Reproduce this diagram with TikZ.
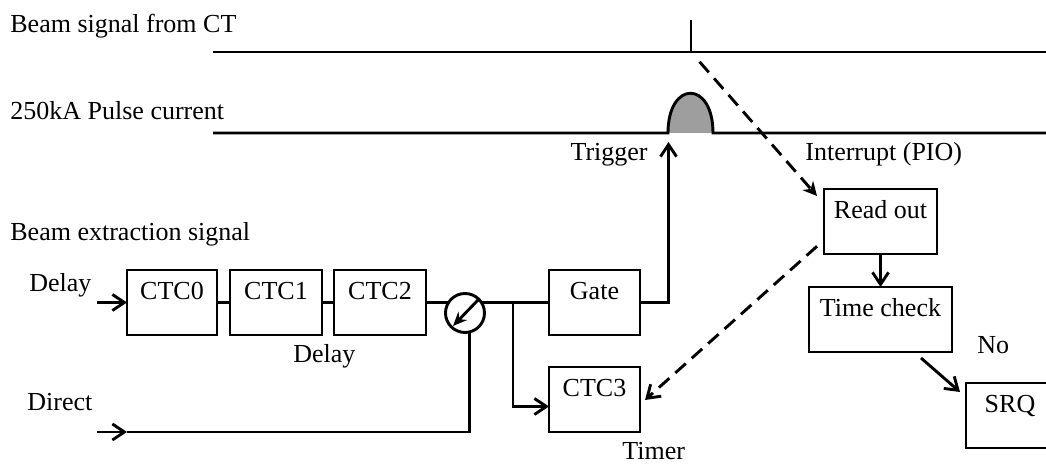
\documentclass[tikz,border=0pt]{standalone}
\usepackage{fontspec}
\setmainfont{Liberation Serif}
\usetikzlibrary{arrows.meta,calc}
\begin{document}
\begin{tikzpicture}[x=0.5pt,y=-0.5pt,font=\fontsize{13}{15}\selectfont,
  wire/.style={line width=1.45pt},
  box/.style={draw,line width=1.45pt,inner xsep=0pt,inner ysep=0pt,outer sep=0pt,text height=15pt,text depth=17.5pt,anchor=north},
  arr/.style={wire,-{Straight Barb[length=6pt,width=8pt]}},
  dasharr/.style={wire,dash pattern=on 7pt off 4pt},
  lbl/.style={anchor=base west,inner sep=0pt}]
\useasboundingbox (0,0) rectangle (1046,464);
\clip (0,0) rectangle (1046,464);

% labels
\node[lbl] (t1) at (10,33) {Beam signal from CT};
\node[lbl] (t2) at (10,120) {250kA Pulse current};
\node[lbl] (t3) at (10,241) {Beam extraction signal};
\node[anchor=base east,inner sep=0pt] (ttrig) at (648,161) {Trigger};
\node[lbl] (tint) at (805,161) {Interrupt (PIO)};
\node[lbl] (tdel) at (29,292) {Delay};
\node[lbl] (tdel2) at (293,363) {Delay};
\node[lbl] (tdir) at (27,411) {Direct};
\node[lbl] (ttim) at (622,460) {Timer};
\node[lbl] (tno) at (977,354) {No};

% boxes
\node[box,minimum width=45pt] (c0) at (172,270) {CTC0};
\node[box,minimum width=46pt] (c1) at (276,270) {CTC1};
\node[box,minimum width=46pt] (c2) at (380,270) {CTC2};
\node[box,minimum width=45.5pt] (gate) at (594.5,270) {Gate};
\node[box,minimum width=45.5pt] (c3) at (594.5,367) {CTC3};
\node[box,minimum width=56.5pt] (ro) at (880.5,189) {Read out};
\node[box,minimum width=71.5pt] (tc) at (880.5,287) {Time check};
\node[box,minimum width=44pt] (srq) at (1010,383) {SRQ};
\node[draw,circle,wire,minimum size=19.5pt,inner sep=0pt,outer sep=0pt] (sw) at (465,313) {};

% signal lines
\coordinate (l1s) at (213,52);
\coordinate (l1e) at (1046,52);
\coordinate (tk) at (691,52);
\coordinate (tktop) at (691,20);
\coordinate (l2s) at (213,133);
\coordinate (pa) at (668,133);
\coordinate (pb) at (713,133);
\coordinate (l2e) at (1046,133);
\fill[black!38] (pa) .. controls (668,80) and (713,80) .. (pb) -- cycle;
\draw[wire] (l1s) -- (l1e);
\draw[wire] (tk) -- (tktop);
\draw[wire] (l2s) -- (pa) .. controls (668,80) and (713,80) .. (pb) -- (l2e);

% chain
\coordinate (din) at (97,302.5);
\draw[arr] (din) -- (c0.west);
\draw[wire] (c0.east) -- (c1.west);
\draw[wire] (c1.east) -- (c2.west);
\draw[wire] (c2.east) -- ($(sw.center)+(-16.6,-10.5)$);
\draw[wire] ($(sw.center)+(16.6,-10.5)$) -- (gate.west);
\draw[wire,-{Stealth[length=7pt,width=6pt]}] ($(sw.center)+(13,-13)$) -- ($(sw.center)+(-12,13)$);
\coordinate (j) at (513,302.5);
\draw[arr] (j) |- ($(c3.west)+(0,7)$);
\coordinate (trg) at (668.5,142);
\draw[arr] (gate.east) -| (trg);
\coordinate (dirin) at (97,432);
\coordinate (dirmid) at (127,432);
\draw[arr] (dirin) -- (dirmid);
\draw[wire] (dirmid) -| (sw.-78);

% right side
\draw[arr] (ro.south) -- (tc.north);
\draw[arr] ($(tc.south east)+(-31,6)$) -- ($(srq.north west)+(-6,9)$);
\draw[dasharr,-{Stealth[length=7pt,width=7pt]},shorten <=6.5pt,shorten >=5.3pt] (tk) -- ($(ro.north west)+(0,15)$);
\draw[dasharr,-{Straight Barb[length=6pt,width=8pt]},shorten <=4.7pt,shorten >=3.4pt] ($(ro.south west)+(0,-14)$) -- ($(c3.east)+(0,5)$);
\end{tikzpicture}
\end{document}
